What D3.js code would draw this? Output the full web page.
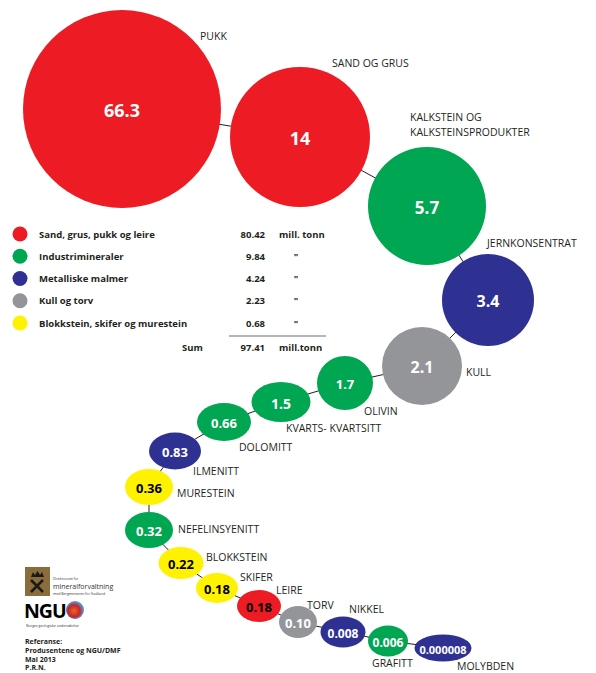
<!DOCTYPE html>
<html>
<head>
<meta charset="utf-8">
<script src="https://cdn.jsdelivr.net/npm/d3@7"></script>
<style>
  body { margin: 0; background: #fff; }
  svg { display: block; font-family: "Open Sans", "Noto Sans", sans-serif; }
  .lbl { font-size: 10.5px; fill: #231f20; }
  .val { font-weight: bold; text-anchor: middle; dominant-baseline: central; }
  .leg { font-size: 9.5px; font-weight: bold; fill: #231f20; }
</style>
</head>
<body>
<div id="chart"></div>
<script>
// production 2012, mill. tonn
const names = ['PUKK', 'SAND OG GRUS', 'KALKSTEIN OG\nKALKSTEINSPRODUKTER', 'JERNKONSENTRAT', 'KULL', 'OLIVIN',
  'KVARTS- KVARTSITT', 'DOLOMITT', 'ILMENITT', 'MURESTEIN', 'NEFELINSYENITT', 'BLOKKSTEIN', 'SKIFER',
  'LEIRE', 'TORV', 'NIKKEL', 'GRAFITT', 'MOLYBDEN'];
const values = ['66.3', '14', '5.7', '3.4', '2.1', '1.7', '1.5', '0.66', '0.83', '0.36', '0.32', '0.22', '0.18',
  '0.18', '0.10', '0.008', '0.006', '0.000008'];
const groups = ['sand', 'sand', 'ind', 'met', 'kull', 'ind', 'ind', 'ind', 'met', 'blokk', 'ind', 'blokk', 'blokk',
  'sand', 'kull', 'met', 'ind', 'met'];

const legendNames = ['Sand, grus, pukk og leire', 'Industrimineraler', 'Metalliske malmer', 'Kull og torv',
  'Blokkstein, skifer og murestein'];
const legendKeys = ['sand', 'ind', 'met', 'kull', 'blokk'];
const legendValues = ['80.42', '9.84', '4.24', '2.23', '0.68'];
const sumValue = '97.41';

// bubble placement along the chain: cx, cy, rx, ry, label x, label y, font size
const layout = [
  [122, 109, 99, 99, 200, 40, 18], [300, 137, 70, 70, 332, 67, 18], [427, 206, 59, 59, 410, 121, 17],
  [488, 300, 46, 46, 487, 247, 16], [422, 366, 40, 39, 466, 376, 16], [345, 383, 28, 27, 364, 415, 13],
  [281, 402, 29.5, 20, 286, 432, 14], [224, 422, 27, 19, 239, 451, 13], [175, 451, 26, 18.5, 193, 475, 13],
  [149, 487, 24, 18, 177, 497, 13], [149, 530, 24, 18, 178, 533, 13], [181, 563, 22.5, 16, 206, 561, 13],
  [217, 588, 21, 15, 240, 581, 13], [259, 606, 22, 16, 276, 594, 13], [298, 622, 19, 16, 307, 609, 13],
  [343, 632, 22.5, 15.5, 349, 613, 12], [388, 641, 20, 15.5, 372, 667, 12], [443, 648, 28.5, 13.5, 457, 670, 11]
];

const color = d3.scaleOrdinal()
  .domain(legendKeys)
  .range(['#ed1c24', '#00a651', '#2e3192', '#939598', '#fff200']);
const textColor = d => (d.group === 'blokk' || (d.group === 'sand' && d.i === 13)) ? '#000' : '#fff';

const data = names.map((n, i) => ({
  i, name: n, value: values[i], group: groups[i],
  cx: layout[i][0], cy: layout[i][1], rx: layout[i][2], ry: layout[i][3],
  lx: layout[i][4], ly: layout[i][5], fs: layout[i][6]
}));

const width = 596, height = 673;
const svg = d3.select('#chart').append('svg').attr('width', width).attr('height', height);

// connector line through the centres
svg.append('path')
  .attr('d', d3.line().x(d => d.cx).y(d => d.cy)(data))
  .attr('fill', 'none').attr('stroke', '#231f20').attr('stroke-width', 1);

const bub = svg.append('g').selectAll('g').data(data).join('g');
bub.append('ellipse')
  .attr('cx', d => d.cx).attr('cy', d => d.cy)
  .attr('rx', d => d.rx).attr('ry', d => d.ry)
  .attr('fill', d => color(d.group));
bub.append('text').attr('class', 'val')
  .attr('x', d => d.cx).attr('y', d => d.cy + 1)
  .attr('font-size', d => d.fs)
  .attr('fill', textColor)
  .text(d => d.value);

bub.append('text').attr('class', 'lbl')
  .attr('x', d => d.lx).attr('y', d => d.ly)
  .selectAll('tspan').data(d => d.name.split('\n').map(t => ({ t, x: d.lx })))
  .join('tspan')
  .attr('x', d => d.x).attr('dy', (d, i) => i ? 15 : 0)
  .text(d => d.t);

// legend
const leg = svg.append('g');
const rowY = d3.scalePoint().domain(legendKeys).range([234, 323]);
const rows = leg.selectAll('g').data(legendKeys).join('g')
  .attr('transform', d => `translate(0,${rowY(d)})`);
rows.append('circle').attr('cx', 20).attr('cy', 0).attr('r', 7.5).attr('fill', d => color(d));
rows.append('text').attr('class', 'leg').attr('x', 39).attr('y', 3.5).text((d, i) => legendNames[i]);
rows.append('text').attr('class', 'leg').attr('x', 265).attr('y', 3.5).attr('text-anchor', 'end')
  .text((d, i) => legendValues[i]);
rows.append('text').attr('class', 'leg').attr('y', 3.5)
  .attr('x', (d, i) => i ? 296 : 279).attr('text-anchor', (d, i) => i ? 'middle' : 'start')
  .text((d, i) => i ? '"' : 'mill. tonn');
leg.append('line').attr('x1', 229).attr('x2', 326).attr('y1', 336).attr('y2', 336)
  .attr('stroke', '#6d6e71').attr('stroke-width', 1.2);
leg.append('text').attr('class', 'leg').attr('x', 182).attr('y', 351).text('Sum');
leg.append('text').attr('class', 'leg').attr('x', 265).attr('y', 351).attr('text-anchor', 'end').text(sumValue);
leg.append('text').attr('class', 'leg').attr('x', 279).attr('y', 351).text('mill.tonn');

// logos and reference
const foot = svg.append('g');
foot.append('rect').attr('x', 25).attr('y', 567).attr('width', 25).attr('height', 29).attr('fill', '#8a6d3b');
foot.append('path').attr('d', 'M31,577 l2,-5 l2,3 l2.5,-4 l2.5,4 l2,-3 l2,5 z').attr('fill', '#1a1a1a');
foot.append('path').attr('d', 'M31,580 L43,592 M43,580 L31,592').attr('stroke', '#1a1a1a').attr('stroke-width', 2.5);
foot.append('text').attr('x', 53).attr('y', 580).attr('font-size', 3.5).attr('fill', '#333').text('Direktoratet for');
foot.append('text').attr('x', 53).attr('y', 589).attr('font-size', 7).attr('fill', '#333').text('mineralforvaltning');
foot.append('text').attr('x', 53).attr('y', 595).attr('font-size', 3.5).attr('fill', '#333').text('med Bergmesteren for Svalbard');

foot.append('text').attr('x', 24).attr('y', 618).attr('font-size', 19.5).attr('font-weight', 'bold')
  .attr('letter-spacing', -1).attr('fill', '#000').text('NGU');
const grad = svg.append('defs').append('radialGradient').attr('id', 'globe').attr('cx', '45%').attr('cy', '55%');
grad.append('stop').attr('offset', '0%').attr('stop-color', '#f26522');
grad.append('stop').attr('offset', '65%').attr('stop-color', '#c1272d');
grad.append('stop').attr('offset', '100%').attr('stop-color', '#5b8fc7');
foot.append('circle').attr('cx', 75).attr('cy', 610).attr('r', 9).attr('fill', 'url(#globe)');
foot.append('text').attr('x', 26).attr('y', 627).attr('font-size', 3.5).attr('fill', '#333')
  .text('Norges geologiske undersøkelse');

const refLines = ['Referanse:', 'Produsentene og NGU/DMF', 'Mai 2013', 'P.R.N.'];
foot.selectAll('.ref').data(refLines).join('text')
  .attr('x', 25).attr('y', (d, i) => 644 + i * 8.8)
  .attr('font-size', 7).attr('font-weight', 'bold').attr('fill', '#231f20')
  .text(d => d);
</script>
</body>
</html>
